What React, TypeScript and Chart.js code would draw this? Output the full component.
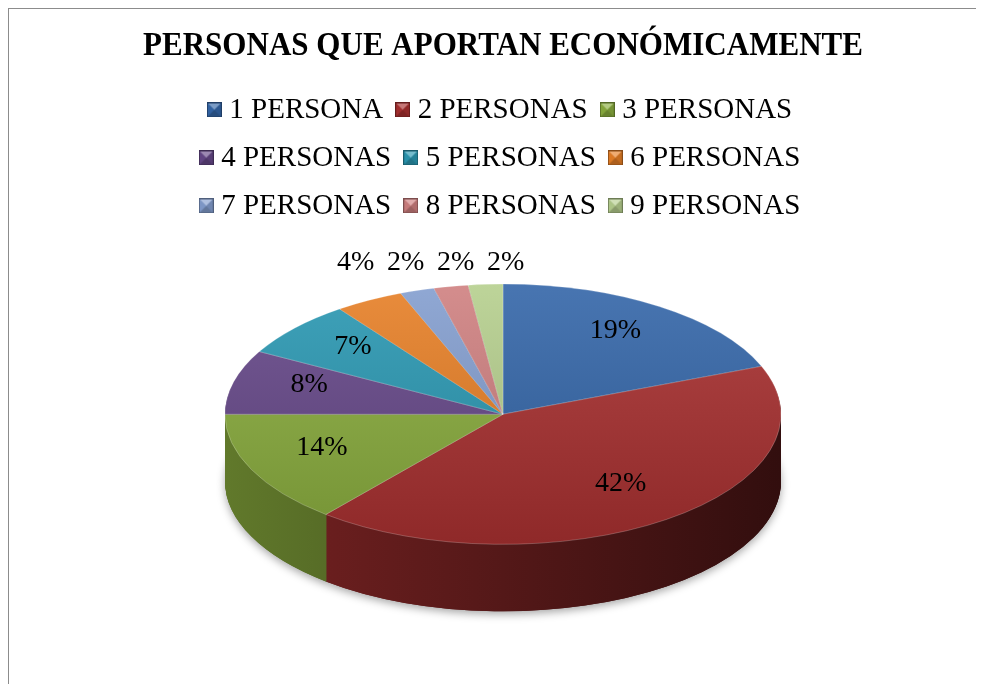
import React, { useEffect, useRef } from 'react';
import { Chart, registerables } from 'chart.js';

Chart.register(...registerables);

// ---- data ----
const TITLE = 'PERSONAS QUE APORTAN ECONÓMICAMENTE';
const CATEGORIES = [
  '1 PERSONA',
  '2 PERSONAS',
  '3 PERSONAS',
  '4 PERSONAS',
  '5 PERSONAS',
  '6 PERSONAS',
  '7 PERSONAS',
  '8 PERSONAS',
  '9 PERSONAS',
];
const VALUES = [19, 42, 14, 8, 7, 4, 2, 2, 2];

// ---- styles ----
const COLORS = ['#3466a8', '#a83030', '#8aad3e', '#664889', '#2a98b2', '#e67f26', '#849ecf', '#cf8080', '#b6cf8e'];
const FONT = '"Liberation Serif", "Times New Roman", serif';
const RADIUS = 278;
const SQUASH = 0.468;
const DEPTH = 67;
const LABEL_FACTOR = 0.72;
const LABEL_LIFT = 6;

function rgb(hex: string) {
  const n = parseInt(hex.slice(1), 16);
  return [(n >> 16) & 255, (n >> 8) & 255, n & 255];
}
function shade(hex: string, f: number) {
  const c = rgb(hex).map((v) => Math.max(0, Math.min(255, Math.round(f > 1 ? v + (255 - v) * (f - 1) : v * f))));
  return `rgb(${c[0]},${c[1]},${c[2]})`;
}

function makeMarker(hex: string) {
  const s = 15;
  const c = document.createElement('canvas');
  c.width = s;
  c.height = s;
  const g = c.getContext('2d')!;
  g.fillStyle = shade(hex, 0.9);
  g.fillRect(0, 0, s, s);
  const tri = (pts: number[][], col: string) => {
    g.beginPath();
    g.moveTo(pts[0][0], pts[0][1]);
    pts.slice(1).forEach((p) => g.lineTo(p[0], p[1]));
    g.closePath();
    g.fillStyle = col;
    g.fill();
  };
  const m = s / 2;
  tri([[1, 1], [s - 1, 1], [m, m]], shade(hex, 1.35));
  tri([[1, 1], [m, m], [1, s - 1]], shade(hex, 0.95));
  tri([[s - 1, 1], [m, m], [s - 1, s - 1]], shade(hex, 0.85));
  tri([[1, s - 1], [m, m], [s - 1, s - 1]], shade(hex, 0.75));
  g.strokeStyle = shade(hex, 0.6);
  g.lineWidth = 1;
  g.strokeRect(0.5, 0.5, s - 1, s - 1);
  return c;
}

const pie3d = {
  id: 'pie3d',
  beforeDatasetsDraw(chart: any) {
    const arcs = chart.getDatasetMeta(0).data;
    const ctx = chart.ctx;
    ctx.save();
    if (!arcs.length) return;
    const cx = arcs[0].x;
    const cy = arcs[0].y;
    const r = arcs[0].outerRadius;
    ctx.translate(cx, cy);
    ctx.scale(1, SQUASH);
    ctx.translate(-cx, -cy);
    const sides = arcs.map((_: any, i: number) => {
      const g = ctx.createLinearGradient(cx - r, 0, cx + r, 0);
      g.addColorStop(0, shade(COLORS[i], 0.7));
      g.addColorStop(1, shade(COLORS[i], 0.3));
      return g;
    });
    const drawLayer = (d: number) => {
      ctx.save();
      ctx.translate(0, d / SQUASH);
      arcs.forEach((arc: any, i: number) => {
        const clone = Object.create(arc);
        clone.options = { ...arc.options, backgroundColor: sides[i], borderWidth: 0 };
        clone.draw(ctx);
      });
      ctx.restore();
    };
    // soft shadow under the pie
    ctx.save();
    ctx.shadowColor = 'rgba(0,0,0,0.35)';
    ctx.shadowBlur = 8;
    ctx.shadowOffsetY = 3;
    drawLayer(DEPTH);
    ctx.restore();
    for (let d = DEPTH; d >= 1; d -= 1) drawLayer(d);
  },
  afterDatasetsDraw(chart: any) {
    chart.ctx.restore();
  },
};

const pctLabels = {
  id: 'pctLabels',
  afterDraw(chart: any) {
    const arcs = chart.getDatasetMeta(0).data;
    if (!arcs.length) return;
    const ctx = chart.ctx;
    const total = VALUES.reduce((a, b) => a + b, 0);
    const cx = arcs[0].x;
    const cy = arcs[0].y;
    const r = arcs[0].outerRadius;
    ctx.save();
    ctx.font = `28px ${FONT}`;
    ctx.fillStyle = '#000';
    ctx.textAlign = 'center';
    ctx.textBaseline = 'middle';
    const outside: { x: number; txt: string }[] = [];
    arcs.forEach((arc: any, i: number) => {
      const mid = (arc.startAngle + arc.endAngle) / 2;
      const pct = Math.round((VALUES[i] / total) * 100);
      const txt = `${pct}%`;
      if (pct < 5) {
        outside.push({ x: cx + Math.cos(mid) * r, txt });
      } else {
        ctx.fillText(
          txt,
          cx + Math.cos(mid) * r * LABEL_FACTOR,
          cy + Math.sin(mid) * r * LABEL_FACTOR * SQUASH - LABEL_LIFT
        );
      }
    });
    outside.sort((a, b) => a.x - b.x);
    const gap = 50;
    const adj = outside.map((o) => o.x);
    for (let i = 1; i < adj.length; i++) adj[i] = Math.max(adj[i], adj[i - 1] + gap);
    const mean = (a: number[]) => a.reduce((s, v) => s + v, 0) / (a.length || 1);
    const shift = mean(outside.map((o) => o.x)) - mean(adj);
    const y = cy - r * SQUASH - 21;
    outside.forEach((o, i) => ctx.fillText(o.txt, adj[i] + shift, y));
    ctx.restore();
  },
};

export default function App() {
  const ref = useRef<HTMLCanvasElement>(null);

  useEffect(() => {
    document.documentElement.style.overflow = 'hidden';
    if (!ref.current) return;
    const markers = COLORS.map(makeMarker);
    const chart = new Chart(ref.current, {
      type: 'pie',
      data: {
        labels: CATEGORIES,
        datasets: [
          {
            data: VALUES,
            radius: RADIUS,
            borderWidth: 1,
            borderColor: 'rgba(255,255,255,0.3)',
            hoverOffset: 0,
            clip: false,
            backgroundColor: (c: any) => {
              const i = c.dataIndex ?? 0;
              const area = c.chart.chartArea;
              if (!area) return COLORS[i];
              const cy = (area.top + area.bottom) / 2;
              const g = c.chart.ctx.createLinearGradient(0, cy - RADIUS, 0, cy + RADIUS);
              g.addColorStop(0, shade(COLORS[i], 1.1));
              g.addColorStop(1, shade(COLORS[i], 0.85));
              return g;
            },
          } as any,
        ],
      },
      options: {
        responsive: false,
        animation: false,
        events: [],
        layout: { padding: { left: 134, right: 121, top: 0, bottom: 86 } },
        plugins: {
          tooltip: { enabled: false },
          title: {
            display: true,
            text: TITLE,
            color: '#000',
            font: { family: FONT, size: 32.7, weight: 'bold' },
            padding: { top: 18, bottom: 10.2 },
          },
          legend: {
            display: true,
            position: 'top',
            labels: {
              usePointStyle: true,
              pointStyleWidth: 1,
              padding: 19,
              color: '#000',
              font: { family: FONT, size: 29 },
              generateLabels: () =>
                CATEGORIES.map((text, i) => ({
                  text,
                  fillStyle: COLORS[i],
                  strokeStyle: COLORS[i],
                  lineWidth: 0,
                  pointStyle: markers[i],
                  hidden: false,
                  index: i,
                  fontColor: '#000',
                })),
            },
          },
        },
      } as any,
      plugins: [pie3d, pctLabels],
    });
    return () => chart.destroy();
  }, []);

  return (
    <div
      style={{
        width: 976,
        height: 676,
        boxSizing: 'border-box',
        borderTop: '1px solid #8c8c8c',
        borderLeft: '1px solid #8c8c8c',
        background: '#fff',
      }}
    >
      <canvas ref={ref} width={975} height={675} style={{ display: 'block' }} />
    </div>
  );
}
